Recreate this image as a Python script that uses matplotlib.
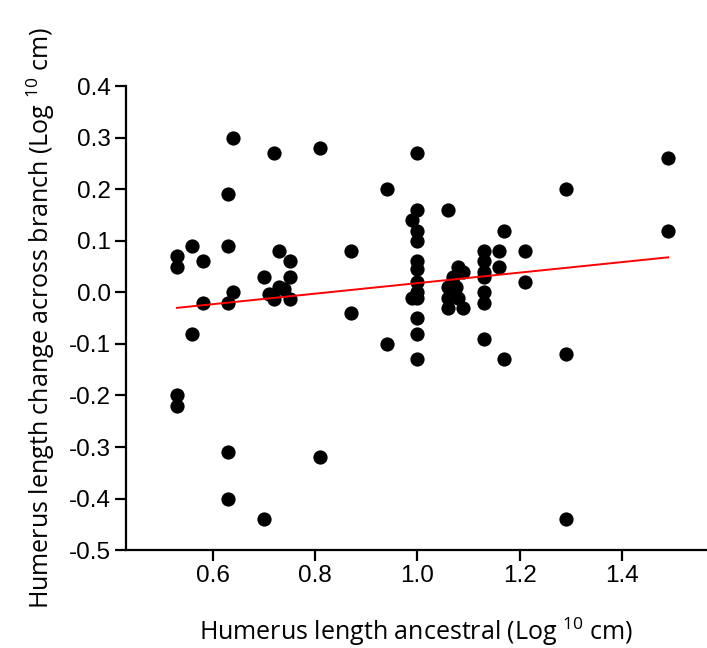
import matplotlib
matplotlib.use("Agg")
import matplotlib.pyplot as plt

plt.rcParams["mathtext.fontset"] = "custom"
plt.rcParams["mathtext.rm"] = "Open Sans"
plt.rcParams["mathtext.it"] = "Open Sans"

# ancestral humerus length (log10 cm) and change across branch
x_anc = [
    0.53, 0.53, 0.53, 0.53, 0.56, 0.56, 0.58, 0.58,
    0.63, 0.63, 0.63, 0.63, 0.63, 0.64, 0.64,
    0.70, 0.70, 0.71, 0.72, 0.72, 0.73, 0.73, 0.74,
    0.75, 0.75, 0.75, 0.81, 0.81, 0.87, 0.87, 0.94, 0.94,
    0.99, 1.00, 1.00, 1.00, 1.00, 1.00, 1.00, 1.00, 1.00, 0.99,
    1.00, 1.00, 1.00, 1.00,
    1.06, 1.06, 1.06, 1.06, 1.07, 1.075, 1.08, 1.08, 1.09, 1.09,
    1.13, 1.13, 1.13, 1.13, 1.13, 1.13, 1.13,
    1.16, 1.16, 1.17, 1.17, 1.21, 1.21,
    1.29, 1.29, 1.29, 1.49, 1.49,
]
y_change = [
    0.07, 0.05, -0.20, -0.22, 0.09, -0.08, 0.06, -0.02,
    0.19, 0.09, -0.02, -0.31, -0.40, 0.30, 0.00,
    0.03, -0.44, -0.003, 0.27, -0.012, 0.08, 0.01, 0.007,
    0.06, 0.03, -0.012, 0.28, -0.32, 0.08, -0.04, 0.20, -0.10,
    0.14, 0.27, 0.16, 0.12, 0.10, 0.06, 0.045, 0.02, -0.01, -0.01,
    0.00, -0.05, -0.08, -0.13,
    0.16, 0.01, -0.01, -0.03, 0.03, 0.01, 0.05, -0.01, 0.04, -0.03,
    0.08, 0.06, 0.04, 0.03, 0.00, -0.02, -0.09,
    0.08, 0.05, 0.12, -0.13, 0.08, 0.02,
    0.20, -0.12, -0.44, 0.26, 0.12,
]

# fitted regression line ends
fit_x = [0.53, 1.49]
fit_y = [-0.03, 0.068]

fig = plt.figure(figsize=(7.07, 6.48), dpi=100)
ax = fig.add_axes([0.178, 0.151, 0.822, 0.716])

ax.scatter(x_anc, y_change, s=105, color="black", zorder=3, linewidths=0,
           clip_on=False)
ax.plot(fit_x, fit_y, color="red", lw=1.4, zorder=4)

ax.set_xlim(0.43, 1.566)
ax.set_ylim(-0.5, 0.4)
ax.set_xticks([0.6, 0.8, 1.0, 1.2, 1.4])
ax.set_xticklabels(["0.6", "0.8", "1.0", "1.2", "1.4"])
ax.set_yticks([-0.5, -0.4, -0.3, -0.2, -0.1, 0.0, 0.1, 0.2, 0.3, 0.4])
ax.set_yticklabels(["-0.5", "-0.4", "-0.3", "-0.2", "-0.1", "0.0",
                    "0.1", "0.2", "0.3", "0.4"])

for side in ["top", "right"]:
    ax.spines[side].set_visible(False)
for side in ["left", "bottom"]:
    ax.spines[side].set_linewidth(1.6)

ax.tick_params(direction="out", length=8, width=1.6, labelsize=17.5,
               pad=3)
for lab in ax.get_xticklabels() + ax.get_yticklabels():
    lab.set_family("Liberation Sans")

ax.set_xlabel("Humerus length ancestral (Log $^{10}$ cm)",
              fontsize=18, family="Open Sans", labelpad=20)
ax.set_ylabel("Humerus length change across branch (Log $^{10}$ cm)",
              fontsize=18, family="Open Sans", labelpad=8)

fig.savefig("out.png", dpi=100)
